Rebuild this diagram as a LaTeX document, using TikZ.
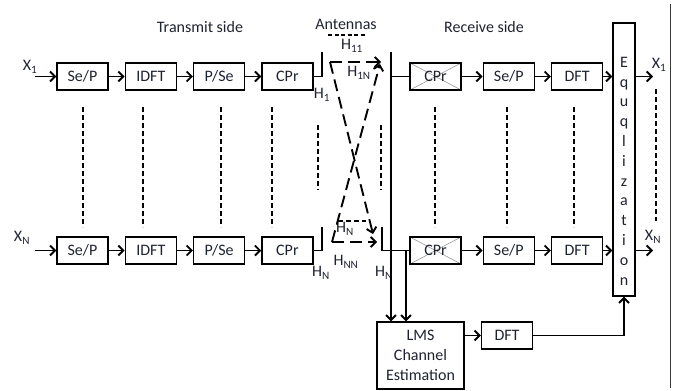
\documentclass[tikz,border=0pt]{standalone}
\usepackage{fontspec}
\setmainfont{Carlito}
\usepackage{tikz}
\usetikzlibrary{arrows.meta, positioning}
\definecolor{ink}{HTML}{1E2330}
\definecolor{frame}{HTML}{3A3A3A}
\tikzset{
  blk/.style={rectangle, draw, line width=1.3pt, minimum width=51pt, minimum height=27pt, inner sep=0pt, text=ink, font=\fontsize{16}{18}\selectfont},
  crossblk/.style={blk, path picture={\draw[gray!80, line width=0.6pt] (path picture bounding box.north west) -- (path picture bounding box.south east) (path picture bounding box.north east) -- (path picture bounding box.south west);}},
  eqbox/.style={rectangle, draw, line width=1.3pt, minimum width=22pt, minimum height=273pt, inner sep=0pt},
  lbl/.style={inner sep=0pt, text=ink, font=\fontsize{16}{18}\selectfont},
  sig/.style={-{Straight Barb[length=5pt, width=10pt]}, line width=1.9pt},
  lnk/.style={line width=1.9pt},
  dots/.style={line width=1.7pt, dash pattern=on 5pt off 3pt},
  chan/.style={-{Straight Barb[length=5pt, width=10pt]}, line width=1.9pt, dash pattern=on 12pt off 6pt},
}
\begin{document}
\begin{tikzpicture}[x=1pt, y=-1pt, node distance=16pt]
  \useasboundingbox (0,0) rectangle (675,391);
  % titles
  \node[lbl] (tx) at (200,27) {Transmit side};
  \node[lbl] (ant) at (346,24) {Antennas};
  \node[lbl] (rx) at (484,27) {Receive side};
  % transmit chains
  \node[blk] (sp1) at (82.5,76.5) {Se/P};
  \node[blk, right=of sp1] (idft1) {IDFT};
  \node[blk, right=of idft1] (ps1) {P/Se};
  \node[blk, right=of ps1] (cp1) {CPr};
  \node[blk] (spN) at (82.5,250.5) {Se/P};
  \node[blk, right=of spN] (idftN) {IDFT};
  \node[blk, right=of idftN] (psN) {P/Se};
  \node[blk, right=of psN] (cpN) {CPr};
  % receive chains
  \node[crossblk] (rcp1) at (435.5,76.5) {CPr};
  \node[blk, right=21pt of rcp1] (rsp1) {Se/P};
  \node[blk, right=of rsp1] (rdft1) {DFT};
  \node[crossblk] (rcpN) at (435.5,250.5) {CPr};
  \node[blk, right=21pt of rcpN] (rspN) {Se/P};
  \node[blk, right=of rspN] (rdftN) {DFT};
  \node[eqbox] (eq) at (624,159.5) {};
  \node[lbl, font=\fontsize{16}{19.8}\selectfont, align=center] (eqtxt) at (624,171)
    {E\\q\\u\\q\\l\\i\\z\\a\\t\\i\\o\\n};
  \node[blk, minimum width=87pt, minimum height=67pt, align=center, font=\fontsize{16}{20}\selectfont] (lms) at (420.5,355.5)
    {LMS\\Channel\\Estimation};
  \node[blk] (dft2) at (507,335.5) {DFT};
  % labels
  \node[lbl] (x1) at (30,67) {X\textsubscript{1}};
  \node[lbl] (xN) at (22,238) {X\textsubscript{N}};
  \node[lbl] (h1) at (322,95) {H\textsubscript{1}};
  \node[lbl] (hN) at (321,273) {H\textsubscript{N}};
  \node[lbl] (h11) at (352,46) {H\textsubscript{11}};
  \node[lbl] (h1N) at (359,73) {H\textsubscript{1N}};
  \node[lbl] (hNm) at (345,229) {H\textsubscript{N}};
  \node[lbl] (hNN) at (346,262) {H\textsubscript{NN}};
  \node[lbl] (hNr) at (384,273) {H\textsubscript{N}};
  \node[lbl] (y1) at (659,65) {X\textsubscript{1}};
  \node[lbl] (yN) at (653,237) {X\textsubscript{N}};
  % free ends
  \coordinate (in1) at (35,76.5);
  \coordinate (inN) at (35,250.5);
  \coordinate (out1) at (653,76.5);
  \coordinate (outN) at (653,250.5);
  \coordinate (at1) at (322,52);
  \coordinate (atN) at (322,227);
  \coordinate (ar1) at (391,52);
  \coordinate (arN) at (382,227);
  \coordinate (tapN) at (406,250.5);
  \coordinate (c1) at (330,62);
  \coordinate (cN) at (332,242);
  \coordinate (e11) at (381,62);
  \coordinate (e1N) at (380,64);
  \coordinate (eN1) at (373,234);
  \coordinate (eNN) at (377,242);
  % signal flow
  \draw[sig] (in1) -- (sp1);
  \draw[sig] (sp1) -- (idft1);
  \draw[sig] (idft1) -- (ps1);
  \draw[sig] (ps1) -- (cp1);
  \draw[sig] (inN) -- (spN);
  \draw[sig] (spN) -- (idftN);
  \draw[sig] (idftN) -- (psN);
  \draw[sig] (psN) -- (cpN);
  \draw[lnk] (cp1.east) -| (at1);
  \draw[lnk] (cpN.east) -| (atN);
  % channel
  \draw[chan] (c1) -- (e11);
  \draw[chan] (c1) -- (eN1);
  \draw[chan] (cN) -- (eNN);
  \draw[chan] (cN) -- (e1N);
  \draw[line width=1.5pt, dash pattern=on 5pt off 3pt] (338,221) -- (366,221);
  \draw[line width=1.5pt, dash pattern=on 4pt off 2.5pt] (328,35) -- (366,35);
  % receive antennas
  \draw[sig] (ar1) -- (ar1 |- lms.north);
  \draw[lnk] (ar1 |- rcp1.west) -- (rcp1.west);
  \draw[lnk] (arN) |- (rcpN.west);
  \draw[sig] (tapN) -- (tapN |- lms.north);
  \draw[sig] (rcp1) -- (rsp1);
  \draw[sig] (rsp1) -- (rdft1);
  \draw[sig] (rdft1.east) -- (eq.west |- rdft1);
  \draw[sig] (rcpN) -- (rspN);
  \draw[sig] (rspN) -- (rdftN);
  \draw[sig] (rdftN.east) -- (eq.west |- rdftN);
  \draw[sig] (eq.east |- out1) -- (out1);
  \draw[sig] (eq.east |- outN) -- (outN);
  \draw[sig] (lms.east |- dft2.west) -- (dft2.west);
  \draw[sig] (dft2.east) -| (eq.south);
  % parallel branches
  \foreach \x in {83,143,221,272,435,507,574}
    \draw[dots] (\x,107) -- (\x,227);
  \draw[dots] (318,125) -- (318,190);
  \draw[dots] (381,125) -- (381,190);
  \draw[dots] (656,89) -- (656,221);
  \draw[frame, line width=1pt] (670,4) -- (670,388);
\end{tikzpicture}
\end{document}
